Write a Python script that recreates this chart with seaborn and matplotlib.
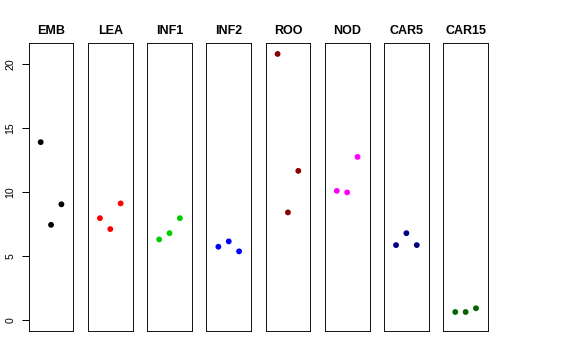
import numpy as np
import pandas as pd
import matplotlib
matplotlib.use("Agg")
import matplotlib.pyplot as plt
import matplotlib.transforms as mtransforms
import seaborn as sns

# tissues and their three replicate values
tissues = ["EMB", "LEA", "INF1", "INF2", "ROO", "NOD", "CAR5", "CAR15"]
colors = ["#000000", "#FF0000", "#00CD00", "#0000FF", "#8B0000", "#FF00FF", "#000080", "#006400"]
replicate = [1, 2, 3]
values = {
    "EMB": [13.9, 7.45, 9.05],
    "LEA": [7.97, 7.12, 9.12],
    "INF1": [6.31, 6.80, 7.97],
    "INF2": [5.74, 6.16, 5.38],
    "ROO": [20.78, 8.42, 11.66],
    "NOD": [10.1, 9.98, 12.75],
    "CAR5": [5.87, 6.80, 5.87],
    "CAR15": [0.65, 0.65, 0.94],
}
y_ticks = [0, 5, 10, 15, 20]

sns.set_style("white")
plt.rcParams["font.family"] = ["Liberation Sans", "DejaVu Sans"]

rows = []
for t in tissues:
    for r, v in zip(replicate, values[t]):
        rows.append({"tissue": t, "rep": r, "value": v})
df = pd.DataFrame(rows)

ymax = df["value"].max()
ylim = (0 - 0.04 * ymax, ymax * 1.04)

fig, axes = plt.subplots(1, 8, figsize=(8, 5), dpi=72)
fig.subplots_adjust(left=0.0498, right=0.8472, bottom=0.0806, top=0.8797, wspace=0.324)

for i, (ax, t, c) in enumerate(zip(axes, tissues, colors)):
    sub = df[df["tissue"] == t]
    sns.scatterplot(data=sub, x="rep", y="value", ax=ax, color=c, s=34,
                    edgecolor="none", legend=False)
    ax.set_xlim(-0.16, 4.16)
    ax.set_ylim(*ylim)
    ax.set_xticks([])
    ax.set_xlabel("")
    ax.set_ylabel("")
    ax.set_title(t, fontsize=12.5, fontweight="bold", color="black", pad=9)
    for sp in ax.spines.values():
        sp.set_visible(True)
        sp.set_color("black")
        sp.set_linewidth(0.9)
    if i == 0:
        ax.set_yticks(y_ticks)
        ax.set_yticklabels([str(v) for v in y_ticks], rotation=90, va="center",
                           fontsize=10.5, color="black")
        ax.tick_params(axis="y", length=0, pad=13)
        # R-style tick marks drawn just outside the left edge
        trans = mtransforms.blended_transform_factory(ax.transAxes, ax.transData)
        ax.hlines(y_ticks, -0.16, 0, transform=trans, colors="black",
                  linewidth=1.0, clip_on=False)
    else:
        ax.set_yticks([])

fig.savefig("out.png", dpi=72)
